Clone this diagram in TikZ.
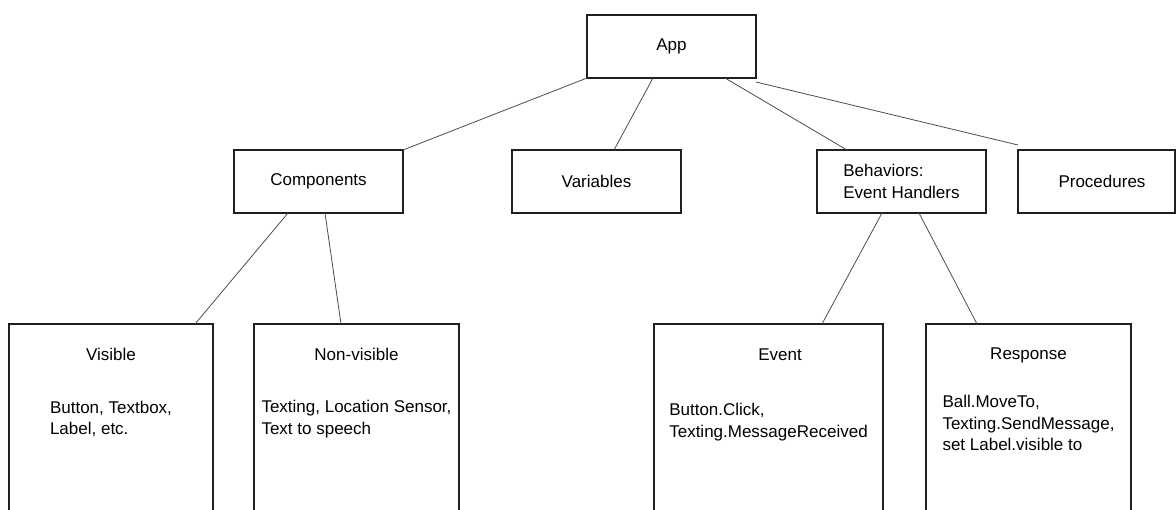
\documentclass[tikz,border=0pt]{standalone}
\usepackage{fontspec}
\setmainfont{Liberation Sans}
\begin{document}
\begin{tikzpicture}[x=1pt, y=-1pt,
  txt/.style={font={\fontsize{17}{21.6}\selectfont}, inner sep=0pt, outer sep=0pt},
  box/.style={txt, draw=black!88, line width=1.6pt, minimum width=169pt, minimum height=63pt},
  tallbox/.style={draw=black!88, line width=1.6pt, inner sep=0pt, outer sep=0pt,
                  anchor=north, minimum height=200pt},
  body/.style={txt, align=left},
  link/.style={draw=black!70, line width=0.8pt}]
\useasboundingbox (0,0) rectangle (1176,509);
\clip (0,0) rectangle (1176,509);

% top level
\node[box] (app) at (671.5,46.5) {App};

% second level
\node[box] (comp) at (318.5,181.5) {Components};
\node[box] (var)  at (596.5,181.5) {Variables};
\node[box, align=left] (beh) at (901.5,181.5) {Behaviors:\\Event Handlers};
\node[box, minimum width=157pt] (proc) at (1096.5,181.5) {\hspace*{11pt}Procedures};

% third level: tall boxes running past the lower edge
\node[tallbox, minimum width=204pt] (vis)    at (111,324)    {};
\node[tallbox, minimum width=205pt] (nonvis) at (356.5,324)  {};
\node[tallbox, minimum width=229pt] (event)  at (768.5,324)  {};
\node[tallbox, minimum width=205pt] (resp)   at (1028.5,324) {};

\node[txt] (visT)    at (111,354)    {Visible};
\node[txt] (nonvisT) at (356.5,354)  {Non-visible};
\node[txt] (eventT)  at (780,355)    {Event};
\node[txt] (respT)   at (1028.5,355) {Response};

\node[body] (visB)    at (111,419)    {Button, Textbox,\\Label, etc.};
\node[body] (nonvisB) at (356.5,419)  {Texting, Location Sensor,\\Text to speech};
\node[body] (eventB)  at (768.5,422)  {Button.Click,\\Texting.MessageReceived};
\node[body] (respB)   at (1028.5,423) {Ball.MoveTo,\\Texting.SendMessage,\\set Label.visible to};

% connectors
\draw[link] (app.south west) -- (comp.north east);
\draw[link] ([xshift=66pt]app.south west) -- ([xshift=102pt]var.north west);
\draw[link] ([xshift=138pt]app.south west) -- ([xshift=30pt]beh.north west);
\draw[link] ([yshift=-4pt]app.south east) -- ([yshift=5pt]proc.north west);

\draw[link] ([xshift=54pt]comp.south west) -- ([xshift=186pt]vis.north west);
\draw[link] ([xshift=91pt]comp.south west) -- ([xshift=87pt]nonvis.north west);

\draw[link] ([xshift=65pt]beh.south west) -- ([xshift=168pt]event.north west);
\draw[link] ([xshift=102pt]beh.south west) -- ([xshift=51pt]resp.north west);
\end{tikzpicture}
\end{document}
